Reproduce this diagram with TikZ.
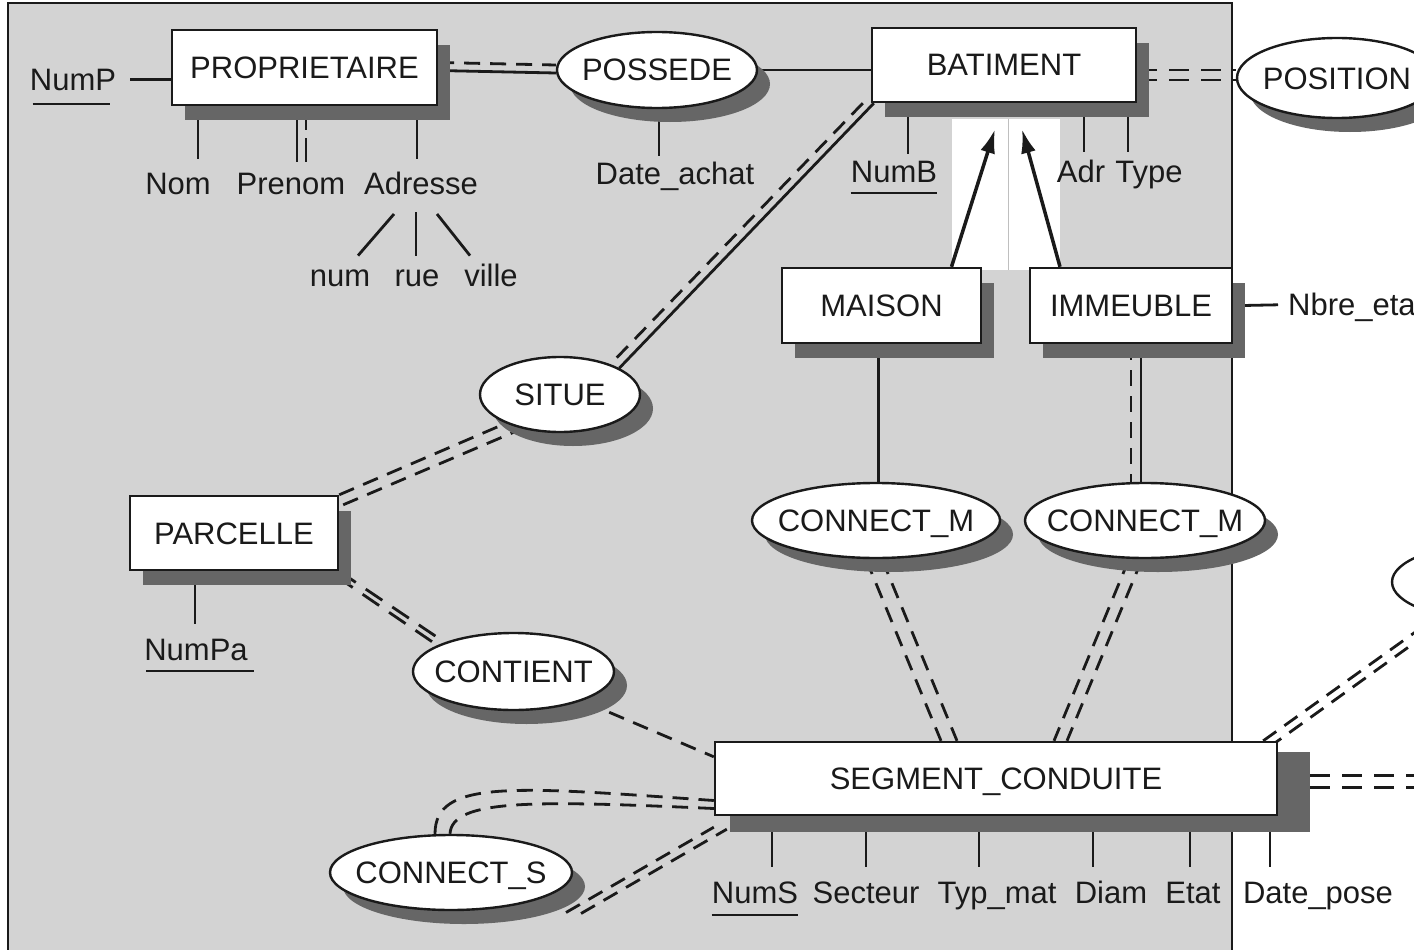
\documentclass[tikz,border=0pt]{standalone}
\usepackage{fontspec}
\setmainfont{Liberation Sans}
\usetikzlibrary{shapes.geometric,shadows,arrows.meta}
\definecolor{panelgray}{HTML}{D3D3D3}
\definecolor{shd}{HTML}{666666}
\definecolor{ink}{HTML}{1A1A1A}
\pgfdeclarelayer{panel}
\pgfdeclarelayer{bg}
\pgfsetlayers{panel,bg,main}
\begin{document}
\begin{tikzpicture}[x=1pt,y=-1pt,
  txt/.style={font=\fontsize{31}{31}\selectfont, text=ink},
  entbase/.style={draw=ink, fill=white, line width=2.4pt, rectangle, inner sep=0pt, txt, text height=22pt, text depth=0pt},
  entity/.style={entbase, drop shadow={shadow xshift=13pt, shadow yshift=-15pt, opacity=1, fill=shd}},
  relbase/.style={draw=ink, fill=white, line width=2.4pt, ellipse, inner sep=0pt},
  rel/.style={relbase, drop shadow={shadow xshift=13pt, shadow yshift=-14pt, opacity=1, fill=shd}},
  reltext/.style={txt, inner sep=0pt, text height=22pt, text depth=0pt},
  attr/.style={txt, inner sep=0pt, text height=22pt, text depth=0pt, anchor=south},
  link/.style={draw=ink, line width=2.8pt},
  dlink/.style={link, dash pattern=on 16pt off 10pt},
  dlinkb/.style={link, dash pattern=on 20pt off 12pt},
  dlinkp/.style={link, dash pattern=on 24pt off 8pt},
  isa/.style={draw=ink, line width=3.5pt, -{Latex[length=24pt,width=15pt]}},
  uline/.style={draw=ink, line width=2.6pt}
]
\useasboundingbox (0,0) rectangle (1414,950);

\begin{pgfonlayer}{panel}
  \fill[white] (0,0) rectangle (1414,950);
  \draw[fill=panelgray, draw=ink, line width=2pt] (8,3) rectangle (1232,975);
  \fill[white] (952,119) rectangle (1060,270);
  \draw[black!25, line width=1pt] (1008,119) -- (1008,270);
\end{pgfonlayer}

\begin{scope}
\clip (0,0) rectangle (1414,950);
% entities
\node[entity, minimum width=265pt, minimum height=75pt] (prop) at (304.5,67.5) {PROPRIETAIRE};
\node[entity, minimum width=264pt, minimum height=74pt] (bat) at (1004,65) {BATIMENT};
\node[entity, minimum width=199pt, minimum height=75pt] (mais) at (881.5,305.5) {MAISON};
\node[entity, minimum width=202pt, minimum height=75pt] (imm) at (1131,305.5) {IMMEUBLE};
\node[entity, minimum width=208pt, minimum height=74pt] (parc) at (234,533) {PARCELLE};
\fill[shd] (730,752) rectangle (1310,832);
\node[entbase, minimum width=562pt, minimum height=73pt] (seg) at (996,778.5) {SEGMENT\_CONDUITE};

% relationships
\node[rel, minimum width=200pt, minimum height=76pt, label={[reltext]center:POSSEDE}] (poss) at (657,70) {};
\node[rel, minimum width=200pt, minimum height=80pt, label={[reltext]center:POSITION}] (pos) at (1337,78) {};
\node[rel, minimum width=160pt, minimum height=75pt, label={[reltext]center:SITUE}] (situe) at (560,394.5) {};
\node[rel, minimum width=248pt, minimum height=75pt, label={[reltext]center:CONNECT\_M}] (cm1) at (876,520.5) {};
\node[rel, minimum width=240pt, minimum height=75pt, label={[reltext]center:CONNECT\_M}] (cm2) at (1145,520.5) {};
\node[rel, minimum width=201pt, minimum height=77pt, label={[reltext]center:CONTIENT}] (cont) at (513.5,671.5) {};
\node[rel, minimum width=242pt, minimum height=75pt, label={[reltext]center:CONNECT\_S}] (cs) at (451,872.5) {};
\node[relbase, minimum width=200pt, minimum height=76pt] (far) at (1492,582) {};

% attributes
\node[attr] (nump) at (73,91) {NumP};
\node[attr] (nom) at (178,195) {Nom};
\node[attr] (pren) at (291,195) {Prenom};
\node[attr] (adr) at (421,195) {Adresse};
\node[attr] (num) at (340,287) {num};
\node[attr] (rue) at (417,287) {rue};
\node[attr] (ville) at (491,287) {ville};
\node[attr] (dach) at (675,185) {Date\_achat};
\node[attr] (numb) at (894,183) {NumB};
\node[attr] (adrb) at (1081,183) {Adr};
\node[attr] (typeb) at (1149,183) {Type};
\node[attr, anchor=south west] (nbre) at (1288,316) {Nbre\_eta};
\node[attr] (numpa) at (196,661) {NumPa};
\node[attr] (nums) at (755,904) {NumS};
\node[attr] (sect) at (866,904) {Secteur};
\node[attr] (typm) at (997,904) {Typ\_mat};
\node[attr] (diam) at (1111,904) {Diam};
\node[attr] (etat) at (1193,904) {Etat};
\node[attr] (dpose) at (1318,904) {Date\_pose};

% underlines of identifiers
\draw[uline] ([xshift=3pt,yshift=-13pt]nump.south west) -- ([xshift=-6pt,yshift=-13pt]nump.south east);
\draw[uline] ([yshift=-10pt]numb.south west) -- ([yshift=-10pt]numb.south east);
\draw[uline] ([xshift=2pt,yshift=-10pt]numpa.south west) -- ([xshift=6pt,yshift=-10pt]numpa.south east);
\draw[uline] ([yshift=-11pt]nums.south west) -- ([yshift=-11pt]nums.south east);
\end{scope}

\begin{pgfonlayer}{bg}
\begin{scope}
\clip (0,0) rectangle (1414,950);
% PROPRIETAIRE - POSSEDE - BATIMENT
\draw[link] ([yshift=-3pt]prop.east) -- ([yshift=-3pt]poss.west);
\draw[dlink] ([yshift=5pt]prop.east) -- ([yshift=5pt]poss.west);
\draw[link] (poss.east) -- (bat.west |- poss.east);
% BATIMENT - POSITION
\draw[dlinkb] ([yshift=-5pt]bat.east) -- ([yshift=-5pt]bat.east -| pos.west);
\draw[dlinkb] ([yshift=-15pt]bat.east) -- ([yshift=-15pt]bat.east -| pos.west);
% BATIMENT - SITUE - PARCELLE
\draw[link] ([xshift=3pt]bat.south west) -- (situe.24);
\draw[dlink] ([xshift=-8pt]bat.south west) -- (situe.31);
\draw[dlink] (parc.north east) -- (situe.208);
\draw[dlink] ([xshift=4pt,yshift=-10pt]parc.north east) -- (situe.222);
% PARCELLE - CONTIENT - SEGMENT
\draw[dlinkb] (parc.south east) -- (cont.157);
\draw[dlinkb] ([xshift=-3pt,yshift=-5pt]parc.south east) -- (cont.161);
\draw[dlink] (cont.center) -- ([yshift=-16pt]seg.north west);
% MAISON / IMMEUBLE - CONNECT_M
\draw[link] ([xshift=-3pt]mais.south) -- ([xshift=-3pt]mais.south |- cm1.north);
\draw[link] ([xshift=10pt]imm.south) -- ([xshift=10pt]imm.south |- cm2.north);
\draw[dlink] (imm.south) -- (imm.south |- cm2.north);
% CONNECT_M - SEGMENT
\draw[dlink] ([xshift=-10pt]cm1.south) -- ([xshift=-55pt]seg.north);
\draw[dlink] ([xshift=6pt]cm1.south) -- ([xshift=-39pt]seg.north);
\draw[dlink] ([xshift=-16pt]cm2.south) -- ([xshift=58pt]seg.north);
\draw[dlink] ([xshift=-3pt]cm2.south) -- ([xshift=71pt]seg.north);
% CONNECT_S - SEGMENT
\draw[dlink] ([xshift=-16pt]cs.north) .. controls +(0,-55) and +(-200,-14) .. ([yshift=-22pt]seg.west);
\draw[dlink] ([xshift=-1pt]cs.north) .. controls +(2,-35) and +(-180,-8) .. ([yshift=-30pt]seg.west);
\draw[dlink] ([xshift=115pt,yshift=-40pt]cs.center) -- ([yshift=-11pt]seg.south west);
\draw[dlink] ([xshift=130pt,yshift=-41pt]cs.center) -- ([xshift=13pt,yshift=-13pt]seg.south west);
% SEGMENT - right side
\draw[dlink] ([xshift=-15pt]seg.north east) -- (far.212);
\draw[dlink] ([xshift=-10pt,yshift=-7pt]seg.north east) -- (far.220);
\coordinate (segout) at (1440,781);
\draw[dlinkb] ([yshift=3pt]seg.east) -- ([yshift=3pt]seg.east -| segout);
\draw[dlinkb] ([yshift=-9pt]seg.east) -- ([yshift=-9pt]seg.east -| segout);
% IMMEUBLE - Nbre_eta
\draw[link] ([xshift=10pt]imm.east) -- ([xshift=-10pt]nbre.west);
% NumP
\draw[link] ([xshift=14pt]nump.east) -- (nump.east -| prop.west);
% attribute stems
\draw[link] ([xshift=20pt,yshift=14pt]nom.north) -- ++(0,-60);
\draw[link] ([xshift=6pt,yshift=11pt]pren.north) -- ++(0,-60);
\draw[dlinkp] ([xshift=15pt,yshift=11pt]pren.north) -- ++(0,-60);
\draw[link] ([xshift=-4pt,yshift=14pt]adr.north) -- ++(0,-60);
\draw[link] ([xshift=-27pt,yshift=-19pt]adr.south) -- ([xshift=18pt,yshift=9pt]num.north);
\draw[link] ([xshift=-5pt,yshift=-17pt]adr.south) -- ([xshift=-1pt,yshift=9pt]rue.north);
\draw[link] ([xshift=16pt,yshift=-19pt]adr.south) -- ([xshift=-21pt,yshift=9pt]ville.north);
\draw[link] ([xshift=-16pt,yshift=7pt]dach.north) -- ++(0,-60);
\draw[link] ([xshift=14pt,yshift=7pt]numb.north) -- ++(0,-60);
\draw[link] ([xshift=3pt,yshift=9pt]adrb.north) -- ++(0,-60);
\draw[link] ([xshift=-21pt,yshift=9pt]typeb.north) -- ++(0,-60);
\draw[link] ([xshift=-1pt,yshift=15pt]numpa.north) -- ++(0,-60);
\draw[link] ([xshift=17pt,yshift=15pt]nums.north) -- ++(0,-60);
\draw[link] ([yshift=15pt]sect.north) -- ++(0,-60);
\draw[link] ([xshift=-18pt,yshift=15pt]typm.north) -- ++(0,-60);
\draw[link] ([xshift=-18pt,yshift=15pt]diam.north) -- ++(0,-60);
\draw[link] ([xshift=-3pt,yshift=15pt]etat.north) -- ++(0,-60);
\draw[link] ([xshift=-48pt,yshift=15pt]dpose.north) -- ++(0,-60);
% specialisation arrows
\draw[isa] ([xshift=70pt]mais.north) -- ([xshift=-9pt,yshift=-26pt]bat.south);
\draw[isa] ([xshift=-71pt]imm.north) -- ([xshift=18pt,yshift=-26pt]bat.south);
\end{scope}
\end{pgfonlayer}
\end{tikzpicture}
\end{document}
